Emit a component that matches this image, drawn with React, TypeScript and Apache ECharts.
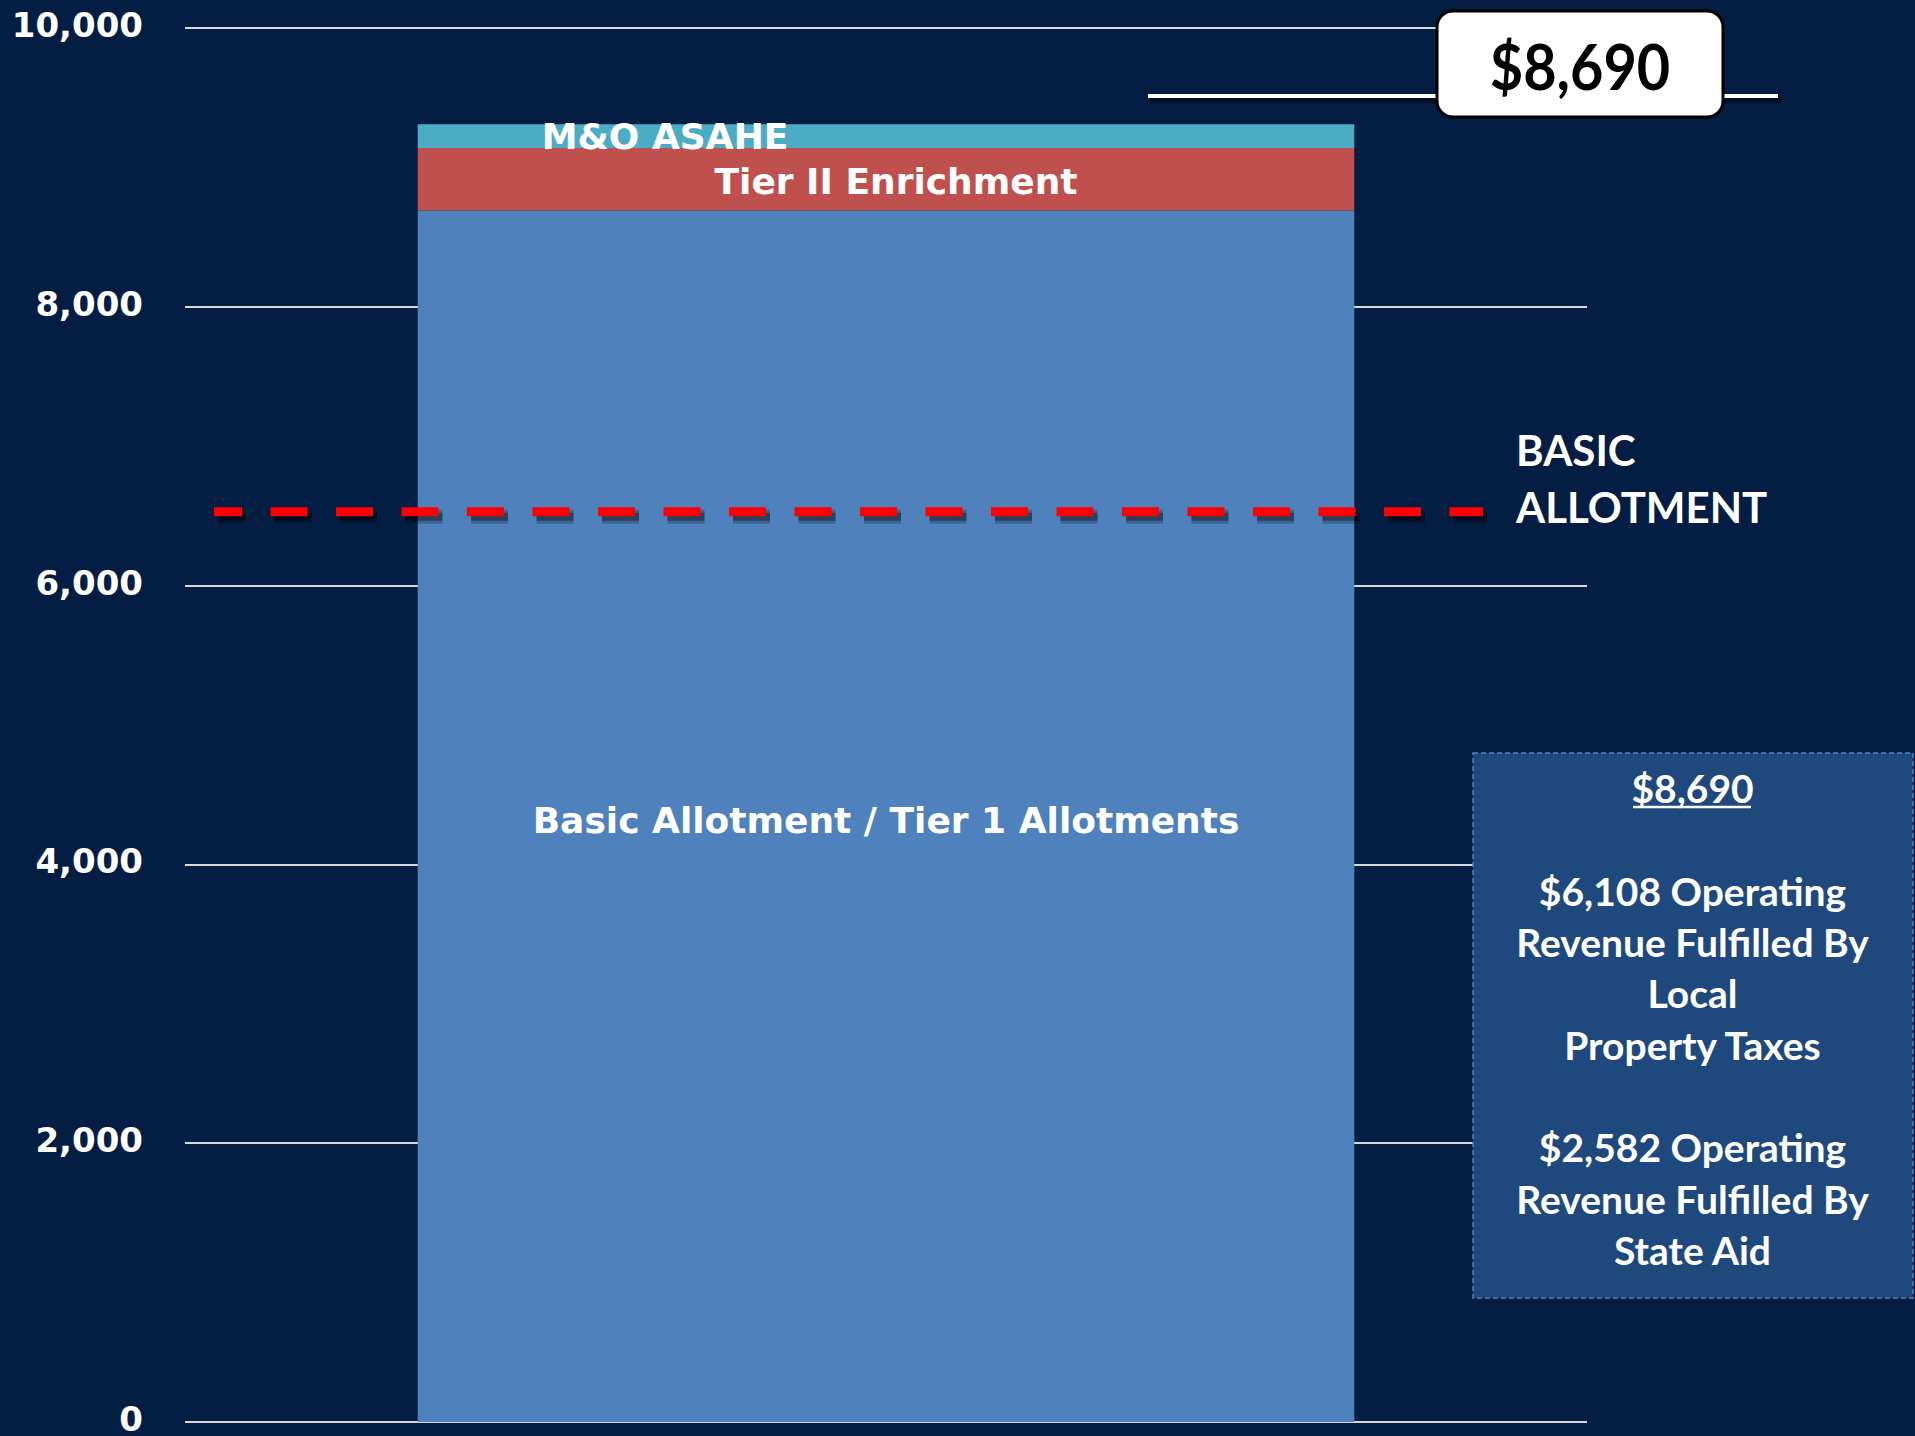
import React, { useEffect, useRef } from 'react';
import * as echarts from 'echarts';

// ---- data ----
const categories = ['District'];
const tier1Values = [8690];
const tier2Values = [450];
const asaheValues = [170];
const basicAllotmentPoints = ['start', 'end'];
const basicAllotmentLine = [6530, 6530];
const yMin = 0;
const yMax = 10000;
const yStep = 2000;
const seriesNames = ['Basic Allotment / Tier 1 Allotments', 'Tier II Enrichment', 'M&O ASAHE'];
const totalLabel = '$8,690';
const refLineLabel = ['BASIC', 'ALLOTMENT'];
const boxHeading = '$8,690';
const boxLines = [
  '',
  '',
  '$6,108 Operating',
  'Revenue Fulfilled By',
  'Local',
  'Property Taxes',
  '',
  '$2,582 Operating',
  'Revenue Fulfilled By',
  'State Aid',
];

const BG = '#041d42';

export default function App() {
  const ref = useRef<HTMLDivElement>(null);
  useEffect(() => {
    document.body.style.margin = '0';
    document.body.style.background = BG;
    const chart = echarts.init(ref.current!, null, { renderer: 'svg' });
    const barLabel = {
      show: true,
      position: 'inside',
      formatter: '{a}',
      color: '#ffffff',
      fontFamily: 'DejaVu Sans',
      fontWeight: 'bold',
      fontSize: 36,
    };
    const dash = {
      type: [37, 28.5],
      dashOffset: 9,
      cap: 'butt',
    };
    chart.setOption({
      animation: false,
      backgroundColor: BG,
      grid: [
        { left: 185, right: 328, top: 28, bottom: 14, outerBoundsMode: 'none' },
        { left: 214, right: 432, top: 28, bottom: 14, outerBoundsMode: 'none' },
        { left: 218, right: 428, top: 33, bottom: 9, outerBoundsMode: 'none' },
      ],
      xAxis: [
        {
          type: 'category',
          gridIndex: 0,
          data: categories,
          axisLine: { show: false },
          axisTick: { show: false },
          axisLabel: { show: false },
        },
        {
          type: 'category',
          gridIndex: 1,
          data: basicAllotmentPoints,
          boundaryGap: false,
          show: false,
        },
        {
          type: 'category',
          gridIndex: 2,
          data: basicAllotmentPoints,
          boundaryGap: false,
          show: false,
        },
      ],
      yAxis: [
        {
          type: 'value',
          gridIndex: 0,
          min: yMin,
          max: yMax,
          interval: yStep,
          axisLine: { show: false },
          axisTick: { show: false },
          axisLabel: {
            color: '#ffffff',
            fontFamily: 'DejaVu Sans',
            fontWeight: 'bold',
            fontSize: 34,
            margin: 42,
            formatter: (v: number) => `{v|${v.toLocaleString('en-US')}}`,
            rich: {
              v: {
                color: '#ffffff',
                fontFamily: 'DejaVu Sans',
                fontWeight: 'bold',
                fontSize: 34,
                lineHeight: 20,
                padding: [0, 0, 6, 0],
              },
            },
          },
          splitLine: { lineStyle: { color: '#d9d9d9', width: 2 } },
        },
        { type: 'value', gridIndex: 1, min: yMin, max: yMax, show: false },
        { type: 'value', gridIndex: 2, min: yMin, max: yMax, show: false },
      ],
      series: [
        {
          type: 'bar',
          name: seriesNames[0],
          stack: 'total',
          barWidth: '66.8%',
          data: tier1Values,
          itemStyle: { color: '#4f81bd' },
          label: { ...barLabel, offset: [0, 4] },
        },
        {
          type: 'bar',
          name: seriesNames[1],
          stack: 'total',
          barWidth: '66.8%',
          data: tier2Values,
          itemStyle: { color: '#c0504d' },
          label: { ...barLabel, offset: [10, 2.5] },
        },
        {
          type: 'bar',
          name: seriesNames[2],
          stack: 'total',
          barWidth: '66.8%',
          data: asaheValues,
          itemStyle: { color: '#4bacc6' },
          label: { ...barLabel, offset: [-221, 0] },
        },
        {
          type: 'line',
          xAxisIndex: 2,
          yAxisIndex: 2,
          data: basicAllotmentLine,
          symbol: 'none',
          silent: true,
          z: 4,
          lineStyle: { ...dash, color: 'rgba(0,0,0,0.22)', width: 14 },
        },
        {
          type: 'line',
          xAxisIndex: 2,
          yAxisIndex: 2,
          data: basicAllotmentLine,
          symbol: 'none',
          silent: true,
          z: 4,
          lineStyle: { ...dash, color: 'rgba(0,0,0,0.35)', width: 8 },
        },
        {
          type: 'line',
          xAxisIndex: 1,
          yAxisIndex: 1,
          data: basicAllotmentLine,
          symbol: 'none',
          z: 5,
          lineStyle: { ...dash, color: '#ff0000', width: 9 },
        },
      ],
      graphic: [
        {
          type: 'line',
          z: 99,
          shape: { x1: 1150, y1: 100, x2: 1781, y2: 100 },
          style: { stroke: 'rgba(0,0,0,0.45)', lineWidth: 7 },
        },
        {
          type: 'line',
          z: 100,
          shape: { x1: 1148, y1: 96, x2: 1778, y2: 96 },
          style: { stroke: '#ffffff', lineWidth: 4 },
        },
        {
          type: 'rect',
          z: 101,
          shape: { x: 1437, y: 11, width: 286, height: 106, r: 16 },
          style: { fill: '#ffffff', stroke: '#000000', lineWidth: 3 },
        },
        {
          type: 'text',
          z: 102,
          x: 1580,
          y: 65,
          scaleX: 0.9,
          style: {
            text: totalLabel,
            fill: '#000000',
            fontFamily: 'Lato',
            fontWeight: 'bold',
            fontSize: 64,
            align: 'center',
            verticalAlign: 'middle',
          },
        },
        {
          type: 'text',
          z: 100,
          x: 1516,
          y: 450,
          style: {
            text: refLineLabel[0],
            fill: '#ffffff',
            fontFamily: 'Lato',
            fontWeight: 'bold',
            fontSize: 42,
            align: 'left',
            verticalAlign: 'middle',
          },
        },
        {
          type: 'text',
          z: 100,
          x: 1516,
          y: 507,
          style: {
            text: refLineLabel[1],
            fill: '#ffffff',
            fontFamily: 'Lato',
            fontWeight: 'bold',
            fontSize: 42,
            align: 'left',
            verticalAlign: 'middle',
          },
        },
        {
          type: 'rect',
          z: 100,
          shape: { x: 1473, y: 753, width: 440, height: 545 },
          style: { fill: '#1f497d', stroke: '#4f81bd', lineWidth: 1.5, lineDash: [5, 3] },
        },
        {
          type: 'text',
          z: 101,
          x: 1692.5,
          y: 762.5,
          style: {
            text: [boxHeading, ...boxLines.slice(1)].join('\n'),
            fill: '#ffffff',
            fontFamily: 'Lato',
            fontWeight: 'bold',
            fontSize: 39,
            lineHeight: 51.3,
            align: 'center',
            verticalAlign: 'top',
          },
        },
        {
          type: 'line',
          z: 101,
          shape: { x1: 1633, y1: 807, x2: 1751, y2: 807 },
          style: { stroke: '#ffffff', lineWidth: 2.5 },
        },
      ],
    });
    return () => chart.dispose();
  }, []);
  return <div ref={ref} style={{ width: 1915, height: 1436 }} />;
}
